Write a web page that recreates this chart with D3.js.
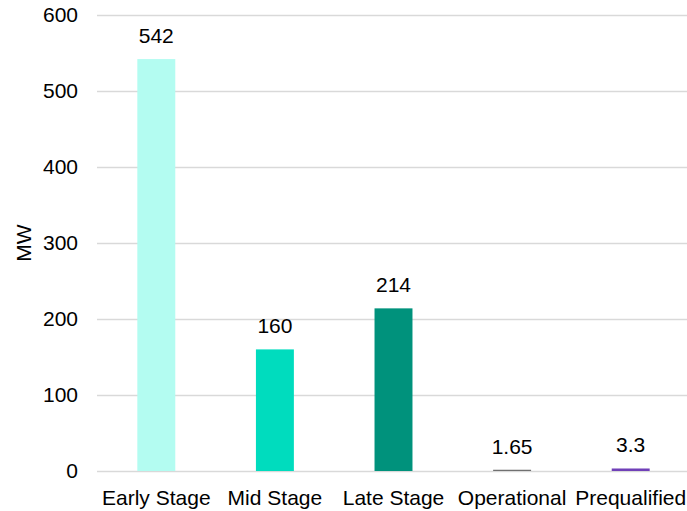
<!DOCTYPE html>
<html>
<head>
<meta charset="utf-8">
<script src="https://cdn.jsdelivr.net/npm/d3@7"></script>
<style>
  html, body { margin: 0; padding: 0; background: #fff; }
  svg { display: block; font-family: "Liberation Sans", Arial, sans-serif; }
</style>
</head>
<body>
<svg id="chart" width="687" height="511"></svg>
<script>
// Capacity by project stage (MW)
const categories = ["Early Stage", "Mid Stage", "Late Stage", "Operational", "Prequalified"];
const values = [542, 160, 214, 1.65, 3.3];
const valueLabels = ["542", "160", "214", "1.65", "3.3"];
const colors = ["#b3fcf1", "#00dcbe", "#00927c", "#707070", "#7040b8"];
const yTicks = [0, 100, 200, 300, 400, 500, 600];

const FONT = "Liberation Sans, Arial, sans-serif";
const FS = "21px";

const svg = d3.select("#chart");
const margin = { top: 15, right: -3, bottom: 40, left: 97 };
const width = 687 - margin.left - margin.right;
const height = 511 - margin.top - margin.bottom;

const g = svg.append("g").attr("transform", `translate(${margin.left},${margin.top})`);

const x = d3.scaleBand().domain(categories).range([0, width]).paddingInner(0.68).paddingOuter(0.34);
const y = d3.scaleLinear().domain([0, 600]).range([height, 0]);

// Horizontal gridlines with tick labels
const yAxis = g.append("g")
  .call(d3.axisLeft(y).tickValues(yTicks).tickSize(-width).tickPadding(19).tickFormat(d3.format("d")));
yAxis.select(".domain").remove();
yAxis.selectAll(".tick line").attr("stroke", "#d9d9d9").attr("stroke-width", 1.5);
yAxis.selectAll(".tick text").attr("fill", "#000")
  .style("font-size", FS).style("font-family", FONT);

// Bars
g.selectAll("rect.bar")
  .data(categories)
  .join("rect")
  .attr("class", "bar")
  .attr("x", d => x(d))
  .attr("width", x.bandwidth())
  .attr("y", (d, i) => y(values[i]))
  .attr("height", (d, i) => y(0) - y(values[i]))
  .attr("fill", (d, i) => colors[i]);

// Value labels above bars
g.selectAll("text.value")
  .data(categories)
  .join("text")
  .attr("class", "value")
  .attr("x", d => x(d) + x.bandwidth() / 2)
  .attr("y", (d, i) => y(values[i]) - 16)
  .attr("text-anchor", "middle")
  .style("font-size", FS).style("font-family", FONT)
  .attr("fill", "#000")
  .text((d, i) => valueLabels[i]);

// Category axis labels
const xAxis = g.append("g")
  .attr("transform", `translate(0,${height})`)
  .call(d3.axisBottom(x).tickSize(0).tickPadding(19));
xAxis.select(".domain").remove();
xAxis.selectAll(".tick text").attr("fill", "#000")
  .style("font-size", FS).style("font-family", FONT);

// Y axis title
svg.append("text")
  .attr("transform", `translate(31,${margin.top + y(300)}) rotate(-90)`)
  .attr("text-anchor", "middle")
  .style("font-size", FS).style("font-family", FONT)
  .attr("fill", "#000")
  .text("MW");
</script>
</body>
</html>
